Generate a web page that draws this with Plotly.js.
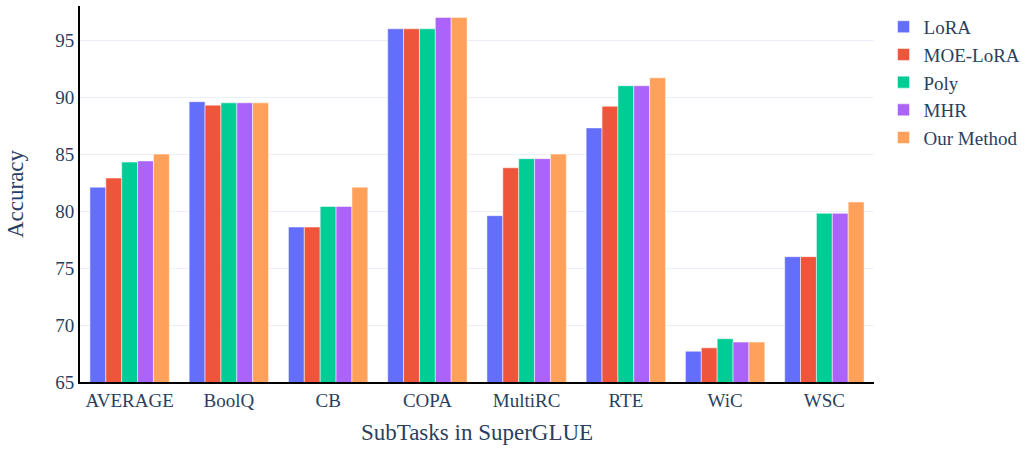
<!DOCTYPE html>
<html>
<head>
<meta charset="utf-8">
<script src="https://cdn.plot.ly/plotly-3.0.1.min.js"></script>
<style>html,body{margin:0;padding:0;background:#fff}#chart{width:1034px;height:449px}</style>
</head>
<body>
<div id="chart"></div>
<script>
const categories = ["AVERAGE", "BoolQ", "CB", "COPA", "MultiRC", "RTE", "WiC", "WSC"];
const seriesNames = ["LoRA", "MOE-LoRA", "Poly", "MHR", "Our Method"];
const lora      = [82.1, 89.6, 78.6, 96.0, 79.6, 87.3, 67.7, 76.0];
const moeLora   = [82.9, 89.3, 78.6, 96.0, 83.8, 89.2, 68.0, 76.0];
const poly      = [84.3, 89.5, 80.4, 96.0, 84.6, 91.0, 68.8, 79.8];
const mhr       = [84.4, 89.5, 80.4, 97.0, 84.6, 91.0, 68.5, 79.8];
const ourMethod = [85.0, 89.5, 82.1, 97.0, 85.0, 91.7, 68.5, 80.8];
const colors = ["#636efa", "#EF553B", "#00cc96", "#ab63fa", "#FFA15A"];

const allSeries = [lora, moeLora, poly, mhr, ourMethod];
const traces = allSeries.map((vals, i) => ({
  type: "bar",
  name: seriesNames[i],
  x: categories,
  y: vals,
  marker: {color: colors[i], line: {color: "white", width: 0.5}}
}));

const font = {family: "Liberation Serif, Times New Roman, serif", color: "#2a3f5f"};
const layout = {
  width: 1034, height: 449,
  margin: {l: 80, r: 160, t: 6, b: 67},
  paper_bgcolor: "white", plot_bgcolor: "white",
  font: Object.assign({size: 19}, font),
  barmode: "group",
  bargap: 0.2,
  bargroupgap: 0,
  xaxis: {
    title: {text: "SubTasks in SuperGLUE", font: Object.assign({size: 23}, font), standoff: 14},
    showline: true, linecolor: "black", linewidth: 2,
    showgrid: false, ticks: "",
    tickfont: Object.assign({size: 19}, font)
  },
  yaxis: {
    title: {text: "Accuracy", font: Object.assign({size: 23}, font)},
    range: [65, 98],
    dtick: 5,
    showline: true, linecolor: "black", linewidth: 2,
    showgrid: true, gridcolor: "#EBF0F8", gridwidth: 1,
    zeroline: false, ticks: "",
    tickfont: Object.assign({size: 19}, font)
  },
  legend: {
    x: 1.012, y: 0.995, xanchor: "left", yanchor: "top",
    font: Object.assign({size: 19}, font)
  },
  showlegend: true
};

Plotly.newPlot("chart", traces, layout, {displayModeBar: false, staticPlot: true});
</script>
</body>
</html>
